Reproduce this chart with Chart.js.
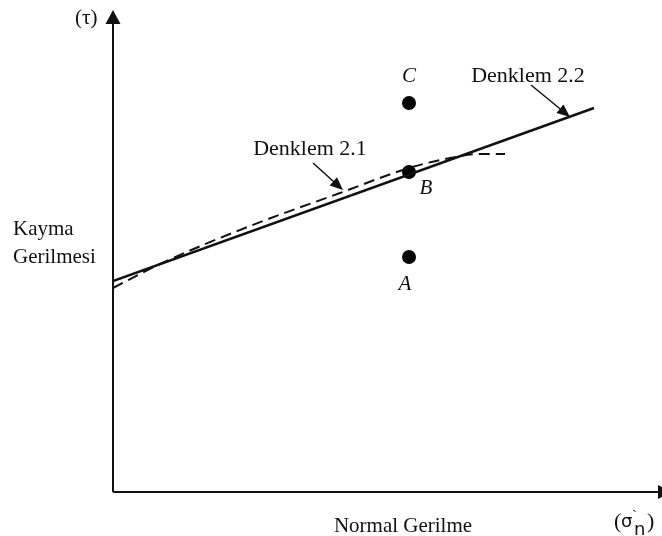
<!DOCTYPE html>
<html>
<head>
<meta charset="utf-8">
<script src="https://cdn.jsdelivr.net/npm/chart.js@4"></script>
<style>
  body { margin: 0; background: #fff; }
  canvas { display: block; }
</style>
</head>
<body>
<canvas id="envelope" width="662" height="536"></canvas>
<script>
// Schematic units: origin at the axes corner, one unit per pixel
const pointNames = ['A', 'B', 'C'];
const pointX = [296, 296, 296];
const pointY = [235, 320, 389];

// Denklem 2.2 (straight line)
const lineX = [0, 481];
const lineY = [211, 384];

// Denklem 2.1 (curved, dashed)
const curveX = [0, 47, 137, 227, 296, 337, 367, 392];
const curveY = [204, 228, 266, 299, 324, 334, 338, 338];

// callout arrows: [fromX, fromY, toX, toY]
const calloutText = ['Denklem 2.1', 'Denklem 2.2'];
const calloutLabelX = [197, 415];
const calloutLabelY = [337, 410];
const calloutArrows = [[200, 329, 230, 302], [418, 407, 457, 375]];

// letter labels next to the points
const letterX = [292, 313, 296];
const letterY = [208, 304, 416];

const toXY = (xs, ys) => xs.map((x, i) => ({ x: x, y: ys[i] }));

const serif = '"Liberation Serif", "Times New Roman", serif';
const sans = '"DejaVu Sans", sans-serif';
const ink = '#111';

function arrowHead(ctx, x1, y1, x2, y2, len, half) {
    const a = Math.atan2(y2 - y1, x2 - x1);
    ctx.beginPath();
    ctx.moveTo(x2, y2);
    ctx.lineTo(x2 - len * Math.cos(a) + half * Math.sin(a), y2 - len * Math.sin(a) - half * Math.cos(a));
    ctx.lineTo(x2 - len * Math.cos(a) - half * Math.sin(a), y2 - len * Math.sin(a) + half * Math.cos(a));
    ctx.closePath();
    ctx.fill();
}

const sketchPlugin = {
    id: 'sketch',
    afterDatasetsDraw(chart) {
        const ctx = chart.ctx;
        const xs = chart.scales.x, ys = chart.scales.y;
        const ox = xs.getPixelForValue(0), oy = ys.getPixelForValue(0);
        ctx.save();
        ctx.strokeStyle = ink;
        ctx.fillStyle = ink;

        // axes
        ctx.lineWidth = 2;
        ctx.beginPath();
        ctx.moveTo(ox, oy);
        ctx.lineTo(ox, 22);
        ctx.moveTo(ox, oy);
        ctx.lineTo(660, oy);
        ctx.stroke();
        arrowHead(ctx, ox, 40, ox, 10, 14, 7.5);
        arrowHead(ctx, 640, oy, 672, oy, 14, 7);

        // callout arrows
        ctx.lineWidth = 1.5;
        calloutArrows.forEach(a => {
            const x1 = xs.getPixelForValue(a[0]), y1 = ys.getPixelForValue(a[1]);
            const x2 = xs.getPixelForValue(a[2]), y2 = ys.getPixelForValue(a[3]);
            ctx.beginPath();
            ctx.moveTo(x1, y1);
            ctx.lineTo(x2 - (x2 - x1) * 0.25, y2 - (y2 - y1) * 0.25);
            ctx.stroke();
            arrowHead(ctx, x1, y1, x2, y2, 13, 5.5);
        });

        // callout texts
        ctx.font = '22px ' + serif;
        ctx.textAlign = 'center';
        ctx.textBaseline = 'alphabetic';
        calloutText.forEach((t, i) => {
            ctx.fillText(t, xs.getPixelForValue(calloutLabelX[i]), ys.getPixelForValue(calloutLabelY[i]));
        });

        // point letters
        ctx.textBaseline = 'middle';
        ctx.font = 'italic 21px ' + serif;
        pointNames.forEach((t, i) => {
            ctx.fillText(t, xs.getPixelForValue(letterX[i]), ys.getPixelForValue(letterY[i]));
        });

        // axis titles
        ctx.textBaseline = 'alphabetic';
        ctx.textAlign = 'left';
        ctx.font = '21px ' + serif;
        ctx.fillText('Kayma', 13, 235);
        ctx.fillText('Gerilmesi', 13, 263);
        ctx.textAlign = 'center';
        ctx.fillText('Normal Gerilme', 403, 532);

        ctx.textAlign = 'left';
        ctx.fillText('(\u03c4)', 75, 24);

        // (σ'n)
        ctx.font = '22px ' + serif;
        ctx.fillText('(', 614, 528);
        ctx.fillText(')', 647, 528);
        ctx.font = '18px ' + sans;
        ctx.fillText('\u03c3', 621, 527);
        ctx.fillText('n', 634, 535);
        ctx.font = '15px ' + serif;
        ctx.fillText('`', 632, 520);
        ctx.restore();
    }
};

new Chart(document.getElementById('envelope'), {
    type: 'scatter',
    data: {
        datasets: [
            {
                label: 'Denklem 2.2',
                data: toXY(lineX, lineY),
                showLine: true,
                borderColor: ink,
                borderWidth: 2.5,
                pointRadius: 0,
            },
            {
                label: 'Denklem 2.1',
                data: toXY(curveX, curveY),
                showLine: true,
                borderColor: ink,
                borderWidth: 2,
                borderDash: [11, 6],
                cubicInterpolationMode: 'monotone',
                pointRadius: 0,
            },
            {
                label: 'Noktalar',
                data: toXY(pointX, pointY),
                pointRadius: 7,
                pointBackgroundColor: '#000',
                pointBorderWidth: 0,
            },
        ],
    },
    options: {
        responsive: false,
        animation: false,
        layout: { autoPadding: false, padding: { left: 113, right: 0, top: 10, bottom: 44 } },
        plugins: { legend: { display: false }, tooltip: { enabled: false } },
        scales: {
            x: { type: 'linear', display: false, min: 0, max: 549 },
            y: { type: 'linear', display: false, min: 0, max: 482 },
        },
    },
    plugins: [sketchPlugin],
});
</script>
</body>
</html>
